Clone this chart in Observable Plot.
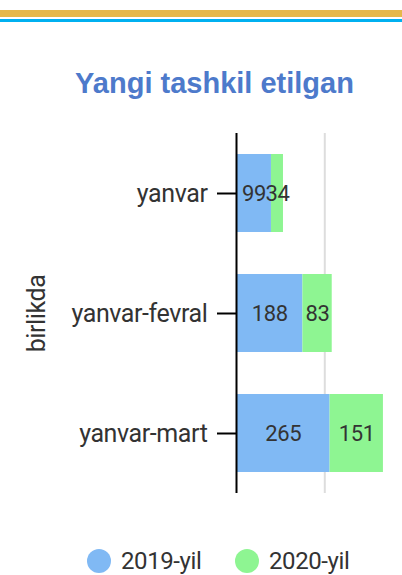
<!DOCTYPE html>
<html><head><meta charset="utf-8">
<script src="https://cdn.jsdelivr.net/npm/d3@7"></script>
<script src="https://cdn.jsdelivr.net/npm/@observablehq/plot@0.6"></script>
<style>
body{margin:0;background:#fff;width:402px;height:575px;overflow:hidden;position:relative;font-family:Roboto,sans-serif}
#gold{position:absolute;left:0;top:10px;width:402px;height:7px;background:#e6b84a}
#line{position:absolute;left:0;top:19px;width:402px;height:2.5px;background:#00b0f0}
#title{position:absolute;left:0;top:66px;width:429px;text-align:center;font:bold 29px "Liberation Sans",Arial,sans-serif;color:#4d7acb;line-height:34px}
#chart{position:absolute;left:0;top:0}
#legend{position:absolute;top:547px;left:0;width:402px;font-size:24px;letter-spacing:-0.4px;color:#333}
.li{position:absolute;display:flex;align-items:center}
.dot{width:24px;height:24px;border-radius:50%;margin-right:10px}
svg text{letter-spacing:-0.4px}
</style></head><body>
<div id="chart"></div>
<div id="gold"></div><div id="line"></div>
<div id="title">Yangi tashkil etilgan</div>
<div id="legend"></div>
<script>
const categories = ["yanvar", "yanvar-fevral", "yanvar-mart"];
const series = ["2019-yil", "2020-yil"];
const values2019 = [99, 188, 265];
const values2020 = [34, 83, 151];
const colors = ["#80b9f4", "#8ef592"];
const yLabel = "birlikda";

const data = [];
categories.forEach((c, i) => {
  data.push({cat: c, series: series[0], value: values2019[i]});
  data.push({cat: c, series: series[1], value: values2020[i]});
});

const chart = Plot.plot({
  width: 402, height: 575,
  marginTop: 133, marginBottom: 82, marginLeft: 236, marginRight: 0,
  style: {fontFamily: "Roboto, sans-serif", color: "#333", background: "transparent"},
  x: {domain: [0, 470], axis: null},
  y: {domain: categories, paddingInner: 0.35, paddingOuter: 0.175, label: null},
  color: {domain: series, range: colors},
  marks: [
    Plot.gridX([250], {stroke: "#dddddd", strokeOpacity: 1, strokeWidth: 2}),
    Plot.barX(data, Plot.stackX({y: "cat", x: "value", fill: "series"})),
    Plot.text(data, Plot.stackX({y: "cat", x: "value", text: d => String(d.value), fill: "#333", fontSize: 22})),
    Plot.axisY({tickSize: 19, tickPadding: 10, fontSize: 25, stroke: "#000", strokeWidth: 2, fill: "#333", label: null}),
    Plot.ruleX([0], {stroke: "#000", strokeWidth: 2}),
    Plot.text([yLabel], {frameAnchor: "left", textAnchor: "middle", dx: -200, rotate: -90, fontSize: 25, fill: "#333", text: d => d})
  ]
});
document.getElementById("chart").appendChild(chart);

const leg = document.getElementById("legend");
const lx = [87, 235];
series.forEach((s, i) => {
  const el = document.createElement("div");
  el.className = "li";
  el.style.left = lx[i] + "px";
  el.style.top = "0px";
  el.innerHTML = `<span class="dot" style="background:${colors[i]}"></span><span>${s}</span>`;
  leg.appendChild(el);
});
</script>
</body></html>
